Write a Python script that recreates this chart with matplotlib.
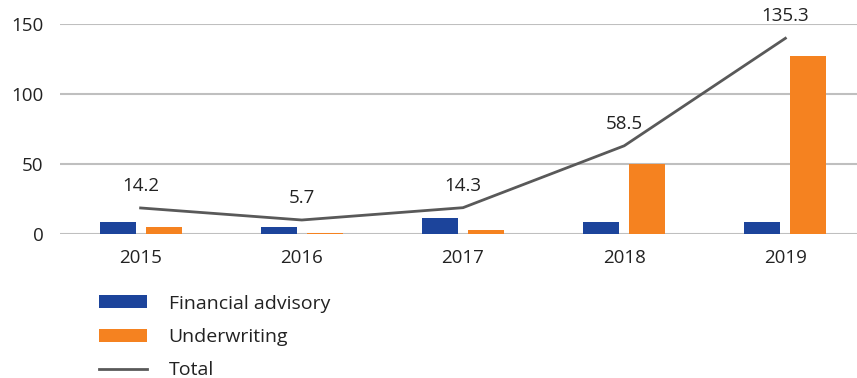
import matplotlib
matplotlib.use("Agg")
import matplotlib.pyplot as plt
import numpy as np

# -----------------------------------------------
# Data
# -----------------------------------------------
years = ["2015", "2016", "2017", "2018", "2019"]
financial_advisory = [8.8, 5.2, 11.4, 8.3, 8.3]
underwriting = [5.2, 0.7, 2.9, 50.2, 127.1]
total_line = [18.6, 10.0, 18.8, 63.0, 139.8]
total_labels = ["14.2", "5.7", "14.3", "58.5", "135.3"]

BLUE = "#1C449B"
ORANGE = "#F58220"
GREY = "#595959"
GRID = "#BFBFBF"
TEXT = "#222222"

plt.rcParams['font.family'] = ['Open Sans', 'DejaVu Sans']

fig = plt.figure(figsize=(8.57, 3.78), dpi=100)
ax = fig.add_axes([60 / 857, 144 / 378, 806 / 857, 210 / 378])

x = np.arange(len(years))
w = 0.223
b1 = ax.bar(x - 0.143, financial_advisory, width=w, color=BLUE, zorder=3)
b2 = ax.bar(x + 0.143, underwriting, width=w, color=ORANGE, zorder=3)
ln, = ax.plot(x, total_line, color=GREY, lw=2, zorder=4)

for xi, yi, lab in zip(x, total_line, total_labels):
    ax.annotate(lab, (xi, yi), xytext=(0, 22), textcoords="offset pixels",
                ha="center", va="center", fontsize=13.5, color=TEXT)

ax.set_xlim(-0.5, len(years) - 0.5)
ax.set_ylim(0, 150)
ax.set_yticks([0, 50, 100, 150])
ax.set_xticks(x)
ax.set_xticklabels(years)
ax.grid(axis="y", color=GRID, lw=1.5, zorder=0)
ax.set_axisbelow(True)
for s in ax.spines.values():
    s.set_visible(False)
ax.tick_params(axis="both", length=0, labelsize=13.5, colors=TEXT)
ax.tick_params(axis="x", pad=11)
ax.tick_params(axis="y", pad=12)

# legend, stacked below the axis
leg = fig.legend([b1, b2, ln], ["Financial advisory", "Underwriting", "Total"],
                 loc="upper left", bbox_to_anchor=(89 / 857, 1 - 285 / 378),
                 frameon=False, fontsize=14, handlelength=2.5, handleheight=0.65,
                 handletextpad=1.1, labelspacing=0.79, borderpad=0)
for t in leg.get_texts():
    t.set_color(TEXT)

fig.savefig("out.png", dpi=100)
